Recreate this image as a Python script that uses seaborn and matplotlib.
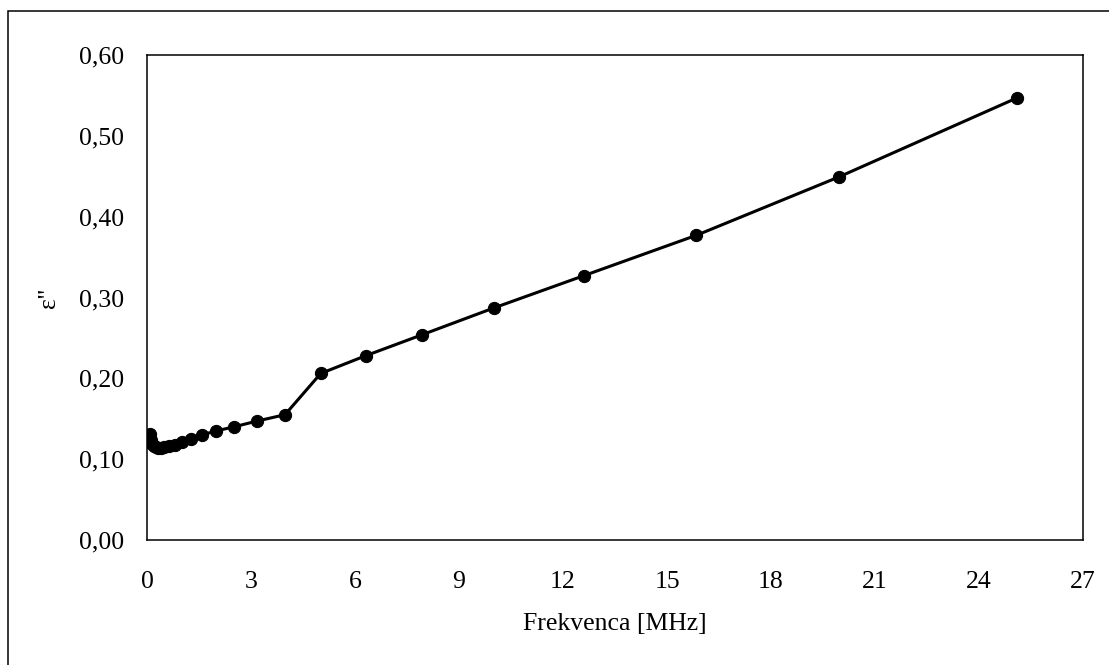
import matplotlib
matplotlib.use("Agg")
import matplotlib.pyplot as plt
import seaborn as sns
import pandas as pd
from matplotlib.patches import Rectangle
from matplotlib.ticker import FuncFormatter, MultipleLocator

# Data
freq_mhz = [0.1, 0.126, 0.158, 0.2, 0.251, 0.316, 0.398, 0.501, 0.631, 0.794,
            1.0, 1.26, 1.585, 2.0, 2.51, 3.16, 3.98, 5.01, 6.31, 7.94,
            10.0, 12.6, 15.85, 19.95, 25.1]
eps2 = [0.131, 0.124, 0.119, 0.116, 0.115, 0.114, 0.114, 0.115, 0.116, 0.118,
        0.121, 0.125, 0.130, 0.135, 0.140, 0.147, 0.155, 0.206, 0.228, 0.254,
        0.287, 0.327, 0.377, 0.449, 0.547]
x_label = "Frekvenca [MHz]"
y_label = "ε''"

df = pd.DataFrame({"f": freq_mhz, "e": eps2})

sns.set_theme(style="white")
plt.rcParams["font.family"] = ["Liberation Serif", "DejaVu Serif"]
plt.rcParams["font.size"] = 18.5

fig = plt.figure(figsize=(11.09, 6.65), dpi=100)
ax = fig.add_axes([147 / 1109, (665 - 540) / 665, (1083 - 147) / 1109, (540 - 55) / 665])

sns.lineplot(data=df, x="f", y="e", ax=ax, color="black", linewidth=2.2,
             marker="o", markersize=8.8, markeredgecolor="black",
             markerfacecolor="black", sort=False)

ax.set_xlim(0, 27)
ax.set_ylim(0, 0.60)
ax.xaxis.set_major_locator(MultipleLocator(3))
ax.yaxis.set_major_locator(MultipleLocator(0.1))
ax.yaxis.set_major_formatter(FuncFormatter(lambda v, p: f"{v:.2f}".replace(".", ",")))
ax.tick_params(axis="both", direction="out", length=6.5, width=1.1, color="black",
               labelsize=18.5, labelcolor="black")
ax.tick_params(axis="x", pad=16)
ax.tick_params(axis="y", pad=10)
for s in ax.spines.values():
    s.set_visible(True)
    s.set_color("black")
    s.set_linewidth(1.1)

ax.set_xlabel(x_label, fontsize=18.5, color="black", labelpad=14)
ax.set_ylabel(y_label, fontsize=18.5, color="black", labelpad=14)
ax.grid(False)

# outer chart-area border (left & top visible)
fig.patches.append(Rectangle((8 / 1109, -0.2), 1.5, 1.2 - 11 / 665,
                             transform=fig.transFigure, fill=False,
                             edgecolor="black", linewidth=1.1, clip_on=False))

fig.savefig("out.png", dpi=100, facecolor="white")
